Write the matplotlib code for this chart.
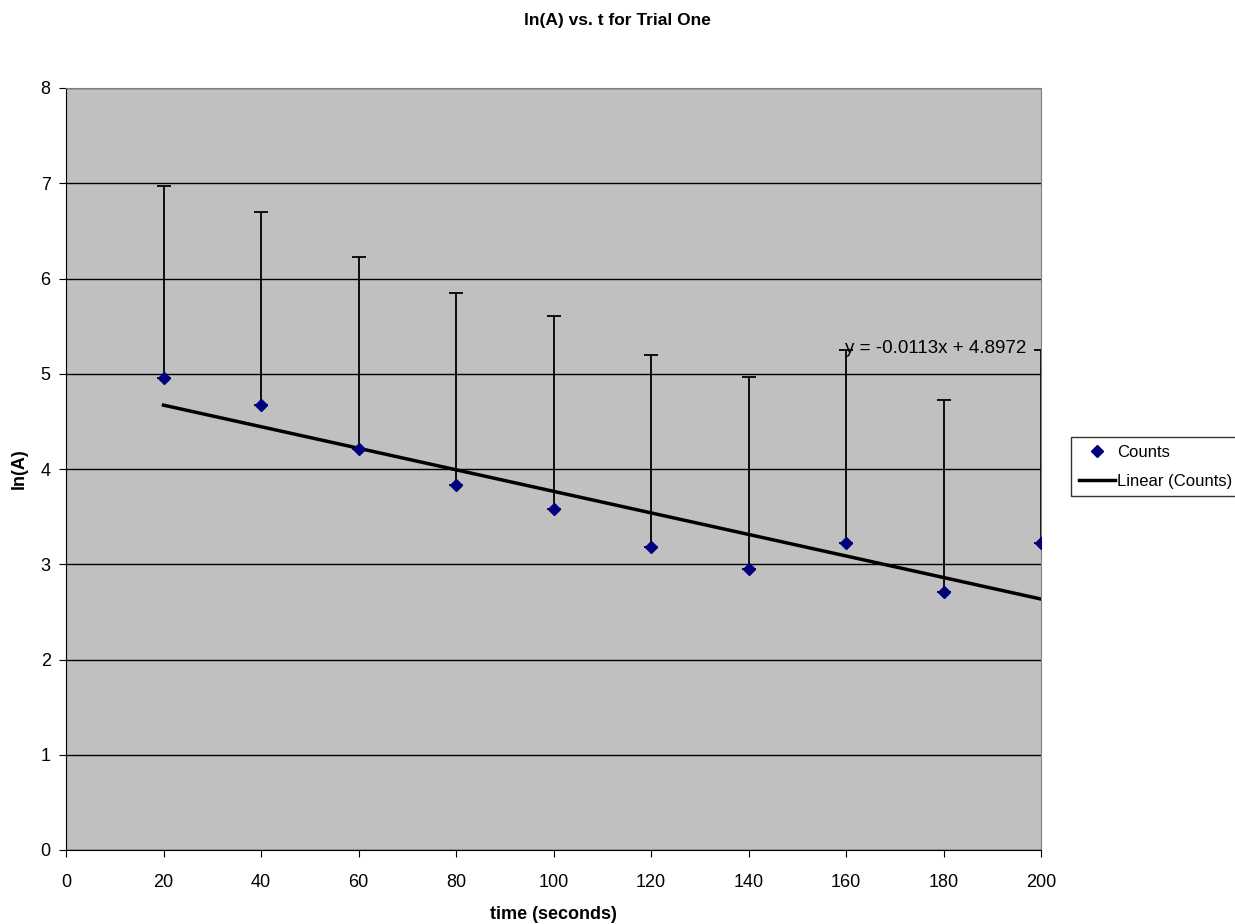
import numpy as np
from matplotlib import pyplot as plt

plt.rcParams['font.family'] = ['Liberation Sans', 'DejaVu Sans']

tiempo = [20, 40, 60, 80, 100, 120, 140, 160, 180, 200]
lnA = [4.955, 4.67, 4.21, 3.83, 3.58, 3.18, 2.95, 3.22, 2.71, 3.22]
erroSup = [2.02, 2.03, 2.02, 2.02, 2.03, 2.02, 2.02, 2.03, 2.01, 2.03]

xticks = list(range(0, 201, 20))
yticks = list(range(0, 9))

fig = plt.figure(figsize=(12.35, 9.24), dpi=100)
ax = fig.add_axes([66 / 1235, 74 / 924, 975 / 1235, 762 / 924])
ax.set_facecolor('#c0c0c0')

ax.errorbar(tiempo, lnA, yerr=[np.zeros(len(erroSup)), erroSup], fmt='none',
            ecolor='black', elinewidth=1.3, capsize=5, capthick=1.3, zorder=2)
ax.plot(tiempo, lnA, linestyle='none', marker='D', markersize=6.5,
        color='#000080', label='Counts', zorder=3)

# linha de tendencia
coef = np.polyfit(tiempo, lnA, 1)
xs = np.array([tiempo[0], tiempo[-1]])
ax.plot(xs, np.polyval(coef, xs), color='black', linewidth=2.5,
        label='Linear (Counts)', zorder=2.5)
ax.text(159.8, 5.27, 'y = -0.0113x + 4.8972', fontsize=13.5, va='center', ha='left', zorder=4)

ax.set_xlim(0, 200)
ax.set_ylim(0, 8)
ax.set_xticks(xticks)
ax.set_yticks(yticks)
ax.tick_params(labelsize=13, length=5, direction='out', color='black')
ax.tick_params(axis='x', pad=12)
ax.tick_params(axis='y', pad=6)
ax.grid(axis='y', color='black', linewidth=1)
ax.set_axisbelow(True)
for lado in ['top', 'right']:
    ax.spines[lado].set_color('#808080')
ax.spines['left'].set_color('black')
ax.spines['bottom'].set_color('black')

ax.set_xlabel('time (seconds)', fontsize=13, fontweight='bold', labelpad=11)
ax.set_ylabel('ln(A)', fontsize=13, fontweight='bold', labelpad=9)
fig.text(0.5, 1 - 21 / 924, 'ln(A) vs. t for Trial One', ha='center', va='center',
         fontsize=12.5, fontweight='bold')

leg = fig.legend(loc='upper left', bbox_to_anchor=(1071 / 1235, 1 - 437 / 924),
                 fontsize=12, frameon=True, fancybox=False, edgecolor='black',
                 borderpad=0.45, labelspacing=0.85, handlelength=2.2, handletextpad=0.1,
                 borderaxespad=0)
leg.get_frame().set_linewidth(1)

fig.savefig('out.png', dpi=100)
